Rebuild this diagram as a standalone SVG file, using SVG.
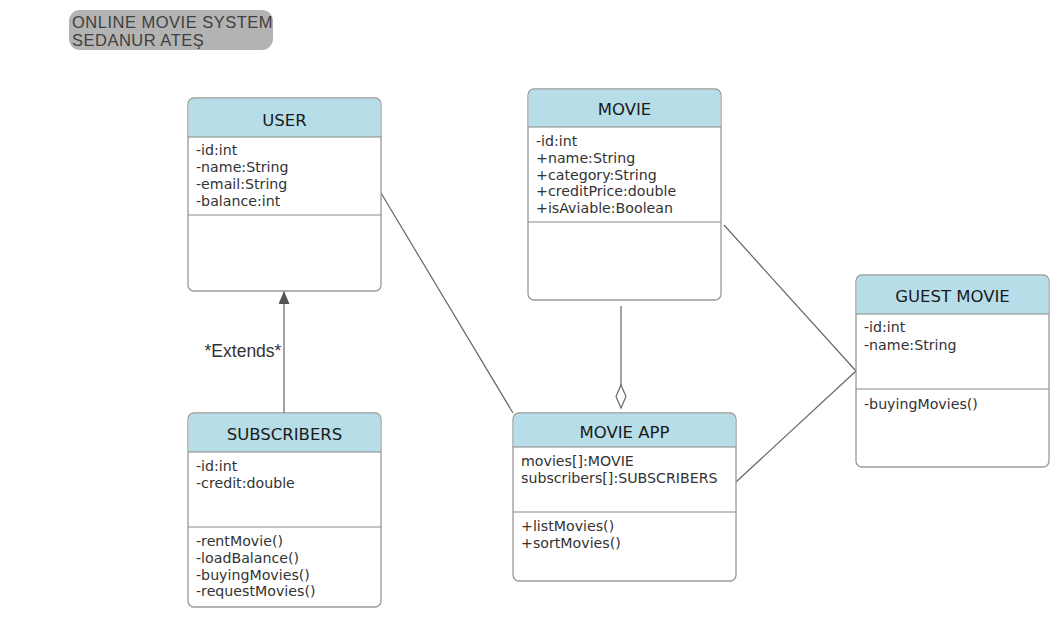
<svg xmlns="http://www.w3.org/2000/svg" width="1064" height="624" viewBox="0 0 1064 624">
<style>
.box{fill:#ffffff;stroke:#999999;stroke-width:1.3}
.hdr{fill:#b7dde8;stroke:none}
.sep{stroke:#888888;stroke-width:1.2;fill:none}
.ttl{font-family:"DejaVu Sans",Verdana,sans-serif;font-size:16.5px;fill:#1a1a1a;text-anchor:middle}
.attr{font-family:"DejaVu Sans",Verdana,sans-serif;font-size:14.2px;fill:#333333}
.conn{stroke:#666666;stroke-width:1.2;fill:none}
.lbl{font-family:"Liberation Sans",Arial,sans-serif;font-size:17.5px;fill:#333333}
.head{font-family:"Liberation Sans",Arial,sans-serif;font-size:16.5px;fill:#404040;letter-spacing:0.5px}
</style>
<defs>
<marker id="tri" viewBox="0 0 13 11" refX="13" refY="5.5" markerWidth="13" markerHeight="11" markerUnits="userSpaceOnUse" orient="auto">
<path d="M0,0 L13,5.5 L0,11 Z" fill="#555555"/>
</marker>
</defs>
<g id="title">
<rect x="69" y="10" width="204" height="40" rx="11" fill="#b3b3b3"/>
<text class="head" x="72" y="28">ONLINE MOVIE SYSTEM</text>
<text class="head" x="72" y="46">SEDANUR ATEŞ</text>
</g>
<g id="connectors">
<line class="conn" x1="381" y1="193" x2="513" y2="413"/>
<line class="conn" x1="724" y1="225" x2="856" y2="371"/>
<line class="conn" x1="736" y1="482" x2="856" y2="371"/>
<line class="conn" x1="621" y1="306" x2="621" y2="385"/>
<path d="M621,385 L626,396.5 L621,408 L616,396.5 Z" fill="#ffffff" stroke="#666666" stroke-width="1.2"/>
<line class="conn" x1="284" y1="413" x2="284" y2="291" marker-end="url(#tri)"/>
<text class="lbl" x="243" y="357" text-anchor="middle">*Extends*</text>
</g>
<g id="user">
<rect class="box" x="188" y="98" width="193" height="193" rx="6"/>
<path class="hdr" d="M194,98.7 H375 A5.3,5.3 0 0 1 380.3,104 V137 H188.7 V104 A5.3,5.3 0 0 1 194,98.7 Z"/>
<line class="sep" x1="188" y1="137" x2="381" y2="137"/>
<line class="sep" x1="188" y1="215" x2="381" y2="215"/>
<text class="ttl" x="284.5" y="126">USER</text>
<text class="attr" x="196" y="155">-id:int</text>
<text class="attr" x="196" y="172">-name:String</text>
<text class="attr" x="196" y="189">-email:String</text>
<text class="attr" x="196" y="206">-balance:int</text>
</g>
<g id="movie">
<rect class="box" x="528" y="89" width="193" height="211" rx="6"/>
<path class="hdr" d="M534,89.7 H715 A5.3,5.3 0 0 1 720.3,95 V127 H528.7 V95 A5.3,5.3 0 0 1 534,89.7 Z"/>
<line class="sep" x1="528" y1="127" x2="721" y2="127"/>
<line class="sep" x1="528" y1="222" x2="721" y2="222"/>
<text class="ttl" x="624.5" y="115">MOVIE</text>
<text class="attr" x="536" y="146">-id:int</text>
<text class="attr" x="536" y="163">+name:String</text>
<text class="attr" x="536" y="180">+category:String</text>
<text class="attr" x="536" y="196">+creditPrice:double</text>
<text class="attr" x="536" y="213">+isAviable:Boolean</text>
</g>
<g id="guest-movie">
<rect class="box" x="856" y="275" width="193" height="192" rx="6"/>
<path class="hdr" d="M862,275.7 H1043 A5.3,5.3 0 0 1 1048.3,281 V314 H856.7 V281 A5.3,5.3 0 0 1 862,275.7 Z"/>
<line class="sep" x1="856" y1="314" x2="1049" y2="314"/>
<line class="sep" x1="856" y1="389" x2="1049" y2="389"/>
<text class="ttl" x="952.5" y="302">GUEST MOVIE</text>
<text class="attr" x="864" y="332">-id:int</text>
<text class="attr" x="864" y="350">-name:String</text>
<text class="attr" x="864" y="409">-buyingMovies()</text>
</g>
<g id="subscribers">
<rect class="box" x="188" y="413" width="193" height="194" rx="6"/>
<path class="hdr" d="M194,413.7 H375 A5.3,5.3 0 0 1 380.3,419 V452 H188.7 V419 A5.3,5.3 0 0 1 194,413.7 Z"/>
<line class="sep" x1="188" y1="452" x2="381" y2="452"/>
<line class="sep" x1="188" y1="527" x2="381" y2="527"/>
<text class="ttl" x="284.5" y="440">SUBSCRIBERS</text>
<text class="attr" x="196" y="471">-id:int</text>
<text class="attr" x="196" y="488">-credit:double</text>
<text class="attr" x="196" y="546">-rentMovie()</text>
<text class="attr" x="196" y="563">-loadBalance()</text>
<text class="attr" x="196" y="580">-buyingMovies()</text>
<text class="attr" x="196" y="596">-requestMovies()</text>
</g>
<g id="movie-app">
<rect class="box" x="513" y="413" width="223" height="168" rx="6"/>
<path class="hdr" d="M519,413.7 H730 A5.3,5.3 0 0 1 735.3,419 V447 H513.7 V419 A5.3,5.3 0 0 1 519,413.7 Z"/>
<line class="sep" x1="513" y1="447" x2="736" y2="447"/>
<line class="sep" x1="513" y1="512" x2="736" y2="512"/>
<text class="ttl" x="624.5" y="438">MOVIE APP</text>
<text class="attr" x="521" y="466">movies[]:MOVIE</text>
<text class="attr" x="521" y="483">subscribers[]:SUBSCRIBERS</text>
<text class="attr" x="521" y="531">+listMovies()</text>
<text class="attr" x="521" y="548">+sortMovies()</text>
</g>
</svg>
